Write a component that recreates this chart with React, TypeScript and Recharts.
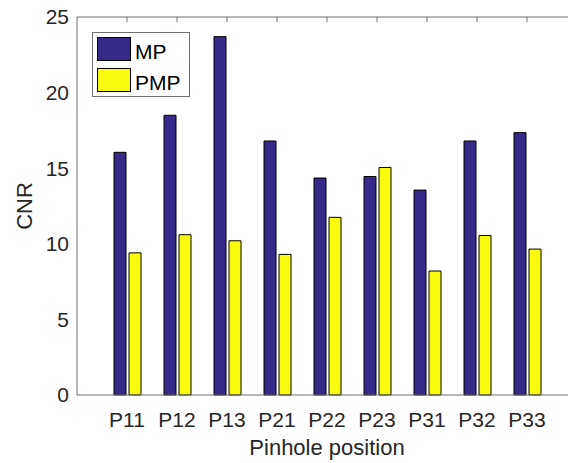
import React from "react";
import { Bar, BarChart, Legend, XAxis, YAxis } from "recharts";

const categories = ["P11", "P12", "P13", "P21", "P22", "P23", "P31", "P32", "P33"];
const mpValues = [16.05, 18.5, 23.7, 16.8, 14.35, 14.45, 13.55, 16.8, 17.35];
const pmpValues = [9.4, 10.6, 10.2, 9.3, 11.75, 15.05, 8.2, 10.55, 9.65];
const yTicks = [0, 5, 10, 15, 20, 25];

const FONT = '"Liberation Sans", Arial, Helvetica, sans-serif';
const TEXT_COLOR = "#262626";
const AXIS_COLOR = "#707070";
const MP_COLOR = "#352a87";
const PMP_COLOR = "#f9fb0e";

const data = categories.map((name, i) => ({
  name,
  MP: mpValues[i],
  PMP: pmpValues[i],
}));

const tickStyle = { fontSize: 21, fill: TEXT_COLOR, fontFamily: FONT };
const noLabel = () => <g />;

function renderLegend(props: any) {
  const payload = props.payload ?? [];
  return (
    <div
      style={{
        position: "relative",
        width: 98,
        height: 65,
        boxSizing: "border-box",
        border: `1px solid ${AXIS_COLOR}`,
        background: "#fff",
        fontFamily: FONT,
      }}
    >
      {payload.map((entry: any, i: number) => (
        <React.Fragment key={entry.value}>
          <span
            style={{
              position: "absolute",
              left: 4,
              top: 4 + i * 31,
              width: 34,
              height: 24,
              boxSizing: "border-box",
              background: entry.color,
              border: "1px solid #000",
            }}
          />
          <span
            style={{
              position: "absolute",
              left: 42,
              top: 8 + i * 31,
              fontSize: 21,
              lineHeight: "21px",
              color: "#000",
              whiteSpace: "nowrap",
            }}
          >
            {entry.value}
          </span>
        </React.Fragment>
      ))}
    </div>
  );
}

export default function App() {
  return (
    <div
      style={{
        position: "absolute",
        left: 0,
        top: 0,
        width: 568,
        height: 463,
        overflow: "hidden",
        background: "#fff",
      }}
    >
      <BarChart
        width={600}
        height={463}
        data={data}
        margin={{ top: 17, right: 23, bottom: 0, left: 0 }}
        barSize={12}
        barGap={3}
      >
        {/* box top edge with inward ticks */}
        <XAxis
          xAxisId="top"
          orientation="top"
          dataKey="name"
          mirror
          padding={{ left: 25, right: 25 }}
          tick={noLabel}
          tickLine={{ stroke: AXIS_COLOR }}
          tickSize={5}
          stroke={AXIS_COLOR}
        />
        <XAxis
          dataKey="name"
          height={68}
          padding={{ left: 25, right: 25 }}
          tick={tickStyle}
          tickLine={false}
          tickSize={0}
          tickMargin={17}
          stroke={AXIS_COLOR}
          label={() => (
            <text
              x={327}
              y={455}
              textAnchor="middle"
              fontSize={22}
              fill={TEXT_COLOR}
              fontFamily={FONT}
            >
              Pinhole position
            </text>
          )}
        />
        <YAxis
          width={77}
          domain={[0, 25]}
          ticks={yTicks}
          interval={0}
          tick={tickStyle}
          tickLine={false}
          tickSize={0}
          tickMargin={8}
          stroke={AXIS_COLOR}
          label={() => (
            <text
              x={32}
              y={206}
              transform="rotate(-90 32 206)"
              textAnchor="middle"
              fontSize={22}
              fill={TEXT_COLOR}
              fontFamily={FONT}
            >
              CNR
            </text>
          )}
        />
        {/* inward tick marks on the left edge */}
        <YAxis
          yAxisId="inner"
          mirror
          domain={[0, 25]}
          ticks={yTicks}
          interval={0}
          tick={noLabel}
          tickLine={{ stroke: AXIS_COLOR }}
          tickSize={5}
          axisLine={false}
        />
        <Legend
          layout="vertical"
          align="center"
          verticalAlign="middle"
          content={renderLegend}
          wrapperStyle={{ left: 92, top: 32, width: 98, height: 65 }}
        />
        <Bar dataKey="MP" fill={MP_COLOR} stroke="#000" strokeWidth={1} isAnimationActive={false} />
        <Bar dataKey="PMP" fill={PMP_COLOR} stroke="#000" strokeWidth={1} isAnimationActive={false} />
      </BarChart>
    </div>
  );
}
